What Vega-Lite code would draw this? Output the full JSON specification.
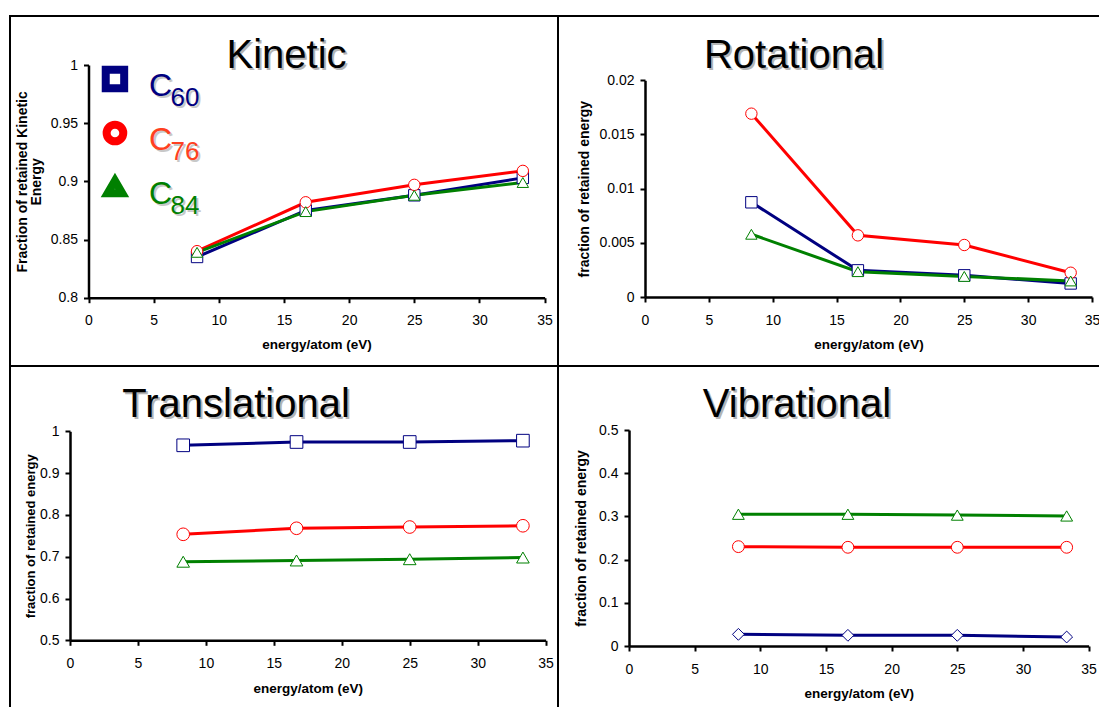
{
  "$schema": "https://vega.github.io/schema/vega-lite/v6.json",
  "padding": {"left": 9, "top": 15, "right": 0, "bottom": 0},
  "bounds": "flush",
  "spacing": 0,
  "columns": 2,
  "datasets": {
    "energy": [
      {"component": "Kinetic", "series": "C60", "energy": 8.33, "fraction": 0.835},
      {"component": "Kinetic", "series": "C60", "energy": 16.67, "fraction": 0.875},
      {"component": "Kinetic", "series": "C60", "energy": 25, "fraction": 0.888},
      {"component": "Kinetic", "series": "C60", "energy": 33.33, "fraction": 0.903},
      {"component": "Kinetic", "series": "C76", "energy": 8.33, "fraction": 0.84},
      {"component": "Kinetic", "series": "C76", "energy": 16.67, "fraction": 0.882},
      {"component": "Kinetic", "series": "C76", "energy": 25, "fraction": 0.897},
      {"component": "Kinetic", "series": "C76", "energy": 33.33, "fraction": 0.909},
      {"component": "Kinetic", "series": "C84", "energy": 8.33, "fraction": 0.839},
      {"component": "Kinetic", "series": "C84", "energy": 16.67, "fraction": 0.874},
      {"component": "Kinetic", "series": "C84", "energy": 25, "fraction": 0.888},
      {"component": "Kinetic", "series": "C84", "energy": 33.33, "fraction": 0.899},
      {"component": "Rotational", "series": "C60", "energy": 8.33, "fraction": 0.00874},
      {"component": "Rotational", "series": "C60", "energy": 16.67, "fraction": 0.00246},
      {"component": "Rotational", "series": "C60", "energy": 25, "fraction": 0.002},
      {"component": "Rotational", "series": "C60", "energy": 33.33, "fraction": 0.00125},
      {"component": "Rotational", "series": "C76", "energy": 8.33, "fraction": 0.01692},
      {"component": "Rotational", "series": "C76", "energy": 16.67, "fraction": 0.00569},
      {"component": "Rotational", "series": "C76", "energy": 25, "fraction": 0.0048},
      {"component": "Rotational", "series": "C76", "energy": 33.33, "fraction": 0.00224},
      {"component": "Rotational", "series": "C84", "energy": 8.33, "fraction": 0.00579},
      {"component": "Rotational", "series": "C84", "energy": 16.67, "fraction": 0.00234},
      {"component": "Rotational", "series": "C84", "energy": 25, "fraction": 0.0019},
      {"component": "Rotational", "series": "C84", "energy": 33.33, "fraction": 0.00148},
      {"component": "Translational", "series": "C60", "energy": 8.33, "fraction": 0.9665},
      {"component": "Translational", "series": "C60", "energy": 16.67, "fraction": 0.9744},
      {"component": "Translational", "series": "C60", "energy": 25, "fraction": 0.9744},
      {"component": "Translational", "series": "C60", "energy": 33.33, "fraction": 0.9776},
      {"component": "Translational", "series": "C76", "energy": 8.33, "fraction": 0.7536},
      {"component": "Translational", "series": "C76", "energy": 16.67, "fraction": 0.768},
      {"component": "Translational", "series": "C76", "energy": 25, "fraction": 0.771},
      {"component": "Translational", "series": "C76", "energy": 33.33, "fraction": 0.774},
      {"component": "Translational", "series": "C84", "energy": 8.33, "fraction": 0.688},
      {"component": "Translational", "series": "C84", "energy": 16.67, "fraction": 0.691},
      {"component": "Translational", "series": "C84", "energy": 25, "fraction": 0.694},
      {"component": "Translational", "series": "C84", "energy": 33.33, "fraction": 0.698},
      {"component": "Vibrational", "series": "C60", "energy": 8.33, "fraction": 0.027},
      {"component": "Vibrational", "series": "C60", "energy": 16.67, "fraction": 0.0247},
      {"component": "Vibrational", "series": "C60", "energy": 25, "fraction": 0.0247},
      {"component": "Vibrational", "series": "C60", "energy": 33.33, "fraction": 0.0208},
      {"component": "Vibrational", "series": "C76", "energy": 8.33, "fraction": 0.23},
      {"component": "Vibrational", "series": "C76", "energy": 16.67, "fraction": 0.2285},
      {"component": "Vibrational", "series": "C76", "energy": 25, "fraction": 0.2285},
      {"component": "Vibrational", "series": "C76", "energy": 33.33, "fraction": 0.2285},
      {"component": "Vibrational", "series": "C84", "energy": 8.33, "fraction": 0.305},
      {"component": "Vibrational", "series": "C84", "energy": 16.67, "fraction": 0.305},
      {"component": "Vibrational", "series": "C84", "energy": 25, "fraction": 0.303},
      {"component": "Vibrational", "series": "C84", "energy": 33.33, "fraction": 0.301}
    ],
    "key": [
      {"series": "C60", "letter": "C", "sub": "60"},
      {"series": "C76", "letter": "C", "sub": "76"},
      {"series": "C84", "letter": "C", "sub": "84"}
    ]
  },
  "concat": [
    {
      "width": 548,
      "height": 350,
      "layer": [
        {
          "layer": [
            {
              "data": {"name": "energy"},
              "transform": [{"filter": "datum.component === 'Kinetic'"}],
              "mark": {"type": "line", "strokeWidth": 3},
              "encoding": {
                "x": {"field": "energy", "type": "quantitative",
                  "scale": {"domain": [0, 35], "range": [78.5, 534.6], "nice": false, "zero": false},
                  "axis": {"values": [0, 5, 10, 15, 20, 25, 30, 35], "format": "d", "offset": -68.3, "title": "energy/atom  (eV)", "titleBaseline": "alphabetic", "titleY": 51}},
                "y": {"field": "fraction", "type": "quantitative",
                  "scale": {"domain": [0.8, 1], "range": [281.7, 49], "nice": false, "zero": false},
                  "axis": {"values": [0.8, 0.85, 0.9, 0.95, 1], "format": "~g", "offset": -78.5, "title": ["Fraction of retained Kinetic", "Energy"], "titleBaseline": "alphabetic", "titleX": -62.5, "titleLineHeight": 14, "titleFontSize": 14}},
                "stroke": {"field": "series", "type": "nominal",
                  "scale": {"domain": ["C60", "C76", "C84"], "range": ["#000080", "#ff0000", "#008000"]}, "legend": null}
              }
            },
            {
              "data": {"name": "energy"},
              "transform": [{"filter": "datum.component === 'Kinetic'"}],
              "mark": {"type": "point", "filled": false, "fill": "white", "fillOpacity": 1, "opacity": 1, "strokeWidth": 1, "size": 130},
              "encoding": {
                "x": {"field": "energy", "type": "quantitative"},
                "y": {"field": "fraction", "type": "quantitative"},
                "color": {"field": "series", "type": "nominal",
                  "scale": {"domain": ["C60", "C76", "C84"], "range": ["#000080", "#ff0000", "#008000"]}, "legend": null},
                "shape": {"field": "series", "type": "nominal",
                  "scale": {"domain": ["C60", "C76", "C84"], "range": ["square", "circle", "triangle-up"]}, "legend": null}
              }
            },
            {
              "data": {"values": [{"label": "Kinetic"}]},
              "mark": {"type": "text", "font": "Liberation Sans", "fontSize": 40, "align": "center", "baseline": "alphabetic", "color": "#b4b4b4", "dx": 2, "dy": 2},
              "encoding": {"x": {"datum": 15.2}, "y": {"datum": 0.9974}, "text": {"field": "label"}}
            },
            {
              "data": {"values": [{"label": "Kinetic"}]},
              "mark": {"type": "text", "font": "Liberation Sans", "fontSize": 40, "align": "center", "baseline": "alphabetic", "color": "black"},
              "encoding": {"x": {"datum": 15.2}, "y": {"datum": 0.9974}, "text": {"field": "label"}}
            }
          ]
        },
        {
          "data": {"name": "key"},
          "encoding": {
            "y": {"field": "series", "type": "nominal", "scale": {"type": "point", "domain": ["C60", "C76", "C84"], "range": [63, 171], "padding": 0}, "axis": null}
          },
          "layer": [
            {
              "mark": {"type": "point", "filled": false, "fill": "white", "fillOpacity": 1, "opacity": 1, "strokeWidth": 8, "strokeJoin": "miter"},
              "encoding": {
                "x": {"datum": 2.03},
                "color": {"field": "series", "type": "nominal",
                  "scale": {"domain": ["C60", "C76", "C84"], "range": ["#000080", "#ff0000", "#008000"]}, "legend": null},
                "shape": {"field": "series", "type": "nominal",
                  "scale": {"domain": ["C60", "C76", "C84"], "range": ["square", "circle", "triangle-up"]}, "legend": null},
                "size": {"field": "series", "type": "nominal",
                  "scale": {"domain": ["C60", "C76", "C84"], "range": [340, 214, 380]}, "legend": null}
              }
            },
            {
              "mark": {"type": "text", "font": "Liberation Sans", "fontSize": 32, "align": "left", "baseline": "alphabetic", "dx": 2, "dy": 19, "color": "#c8c8c8"},
              "encoding": {"x": {"datum": 4.64}, "text": {"field": "letter"}}
            },
            {
              "mark": {"type": "text", "font": "Liberation Sans", "fontSize": 26, "align": "left", "baseline": "alphabetic", "dx": 2, "dy": 29, "color": "#c8c8c8"},
              "encoding": {"x": {"datum": 6.3}, "text": {"field": "sub"}}
            },
            {
              "mark": {"type": "text", "font": "Liberation Sans", "fontSize": 32, "align": "left", "baseline": "alphabetic", "dy": 17},
              "encoding": {
                "x": {"datum": 4.64}, "text": {"field": "letter"},
                "fill": {"field": "series", "type": "nominal",
                  "scale": {"domain": ["C60", "C76", "C84"], "range": ["#000080", "#ff4020", "#008000"]}, "legend": null}
              }
            },
            {
              "mark": {"type": "text", "font": "Liberation Sans", "fontSize": 26, "align": "left", "baseline": "alphabetic", "dy": 27},
              "encoding": {
                "x": {"datum": 6.3}, "text": {"field": "sub"},
                "fill": {"field": "series", "type": "nominal",
                  "scale": {"domain": ["C60", "C76", "C84"], "range": ["#000080", "#ff4020", "#008000"]}, "legend": null}
              }
            }
          ]
        }
      ],
      "resolve": {"scale": {"y": "independent"}}
    },
    {
      "width": 542,
      "height": 350,
      "layer": [
        {
          "data": {"name": "energy"},
          "transform": [{"filter": "datum.component === 'Rotational'"}],
          "mark": {"type": "line", "strokeWidth": 3},
          "encoding": {
            "x": {"field": "energy", "type": "quantitative",
              "scale": {"domain": [0, 35], "range": [87, 534], "nice": false, "zero": false},
              "axis": {"values": [0, 5, 10, 15, 20, 25, 30, 35], "format": "d", "offset": -69, "title": "energy/atom (eV)", "titleBaseline": "alphabetic", "titleY": 51}},
            "y": {"field": "fraction", "type": "quantitative",
              "scale": {"domain": [0, 0.02], "range": [281, 64.3], "nice": false, "zero": false},
              "axis": {"values": [0, 0.005, 0.01, 0.015, 0.02], "format": "~g", "offset": -87, "title": "fraction of retained energy", "titleBaseline": "alphabetic", "titleX": -57, "titleFontSize": 14}},
            "stroke": {"field": "series", "type": "nominal",
              "scale": {"domain": ["C60", "C76", "C84"], "range": ["#000080", "#ff0000", "#008000"]}, "legend": null}
          }
        },
        {
          "data": {"name": "energy"},
          "transform": [{"filter": "datum.component === 'Rotational'"}],
          "mark": {"type": "point", "filled": false, "fill": "white", "fillOpacity": 1, "opacity": 1, "strokeWidth": 1, "size": 130},
          "encoding": {
            "x": {"field": "energy", "type": "quantitative"},
            "y": {"field": "fraction", "type": "quantitative"},
            "color": {"field": "series", "type": "nominal",
              "scale": {"domain": ["C60", "C76", "C84"], "range": ["#000080", "#ff0000", "#008000"]}, "legend": null},
            "shape": {"field": "series", "type": "nominal",
              "scale": {"domain": ["C60", "C76", "C84"], "range": ["square", "circle", "triangle-up"]}, "legend": null}
          }
        },
        {
          "data": {"values": [{"label": "Rotational"}]},
          "mark": {"type": "text", "font": "Liberation Sans", "fontSize": 40, "align": "center", "baseline": "alphabetic", "color": "#b4b4b4", "dx": 2, "dy": 2},
          "encoding": {"x": {"datum": 11.67}, "y": {"datum": 0.02114}, "text": {"field": "label"}}
        },
        {
          "data": {"values": [{"label": "Rotational"}]},
          "mark": {"type": "text", "font": "Liberation Sans", "fontSize": 40, "align": "center", "baseline": "alphabetic", "color": "black"},
          "encoding": {"x": {"datum": 11.67}, "y": {"datum": 0.02114}, "text": {"field": "label"}}
        }
      ]
    },
    {
      "width": 548,
      "height": 342,
      "layer": [
        {
          "data": {"name": "energy"},
          "transform": [{"filter": "datum.component === 'Translational'"}],
          "mark": {"type": "line", "strokeWidth": 3},
          "encoding": {
            "x": {"field": "energy", "type": "quantitative",
              "scale": {"domain": [0, 35], "range": [60, 535.6], "nice": false, "zero": false},
              "axis": {"values": [0, 5, 10, 15, 20, 25, 30, 35], "format": "d", "offset": -67.7, "title": "energy/atom  (eV)", "titleBaseline": "alphabetic", "titleY": 52}},
            "y": {"field": "fraction", "type": "quantitative",
              "scale": {"domain": [0.5, 1], "range": [274.3, 65.3], "nice": false, "zero": false},
              "axis": {"values": [0.5, 0.6, 0.7, 0.8, 0.9, 1], "format": "~g", "offset": -60, "title": "fraction of retained energy", "titleBaseline": "alphabetic", "titleX": -35.5, "titleFontSize": 13}},
            "stroke": {"field": "series", "type": "nominal",
              "scale": {"domain": ["C60", "C76", "C84"], "range": ["#000080", "#ff0000", "#008000"]}, "legend": null}
          }
        },
        {
          "data": {"name": "energy"},
          "transform": [{"filter": "datum.component === 'Translational'"}],
          "mark": {"type": "point", "filled": false, "fill": "white", "fillOpacity": 1, "opacity": 1, "strokeWidth": 1, "size": 160},
          "encoding": {
            "x": {"field": "energy", "type": "quantitative"},
            "y": {"field": "fraction", "type": "quantitative"},
            "color": {"field": "series", "type": "nominal",
              "scale": {"domain": ["C60", "C76", "C84"], "range": ["#000080", "#ff0000", "#008000"]}, "legend": null},
            "shape": {"field": "series", "type": "nominal",
              "scale": {"domain": ["C60", "C76", "C84"], "range": ["square", "circle", "triangle-up"]}, "legend": null}
          }
        },
        {
          "data": {"values": [{"label": "Translational"}]},
          "mark": {"type": "text", "font": "Liberation Sans", "fontSize": 40, "align": "center", "baseline": "alphabetic", "color": "#b4b4b4", "dx": 2, "dy": 2},
          "encoding": {"x": {"datum": 12.22}, "y": {"datum": 1.0342}, "text": {"field": "label"}}
        },
        {
          "data": {"values": [{"label": "Translational"}]},
          "mark": {"type": "text", "font": "Liberation Sans", "fontSize": 40, "align": "center", "baseline": "alphabetic", "color": "black"},
          "encoding": {"x": {"datum": 12.22}, "y": {"datum": 1.0342}, "text": {"field": "label"}}
        }
      ]
    },
    {
      "width": 542,
      "height": 342,
      "layer": [
        {
          "data": {"name": "energy"},
          "transform": [{"filter": "datum.component === 'Vibrational'"}],
          "mark": {"type": "line", "strokeWidth": 3},
          "encoding": {
            "x": {"field": "energy", "type": "quantitative",
              "scale": {"domain": [0, 35], "range": [71, 530.6], "nice": false, "zero": false},
              "axis": {"values": [0, 5, 10, 15, 20, 25, 30, 35], "format": "d", "offset": -62, "title": "energy/atom  (eV)", "titleBaseline": "alphabetic", "titleY": 51}},
            "y": {"field": "fraction", "type": "quantitative",
              "scale": {"domain": [0, 0.5], "range": [280, 64], "nice": false, "zero": false},
              "axis": {"values": [0, 0.1, 0.2, 0.3, 0.4, 0.5], "format": "~g", "offset": -71, "title": "fraction of retained energy", "titleBaseline": "alphabetic", "titleX": -43.5, "titleFontSize": 14}},
            "stroke": {"field": "series", "type": "nominal",
              "scale": {"domain": ["C60", "C76", "C84"], "range": ["#000080", "#ff0000", "#008000"]}, "legend": null}
          }
        },
        {
          "data": {"name": "energy"},
          "transform": [{"filter": "datum.component === 'Vibrational'"}],
          "mark": {"type": "point", "filled": false, "fill": "white", "fillOpacity": 1, "opacity": 1, "strokeWidth": 1, "size": 140},
          "encoding": {
            "x": {"field": "energy", "type": "quantitative"},
            "y": {"field": "fraction", "type": "quantitative"},
            "color": {"field": "series", "type": "nominal",
              "scale": {"domain": ["C60", "C76", "C84"], "range": ["#000080", "#ff0000", "#008000"]}, "legend": null},
            "shape": {"field": "series", "type": "nominal",
              "scale": {"domain": ["C60", "C76", "C84"], "range": ["diamond", "circle", "triangle-up"]}, "legend": null}
          }
        },
        {
          "data": {"values": [{"label": "Vibrational"}]},
          "mark": {"type": "text", "font": "Liberation Sans", "fontSize": 40, "align": "center", "baseline": "alphabetic", "color": "#b4b4b4", "dx": 2, "dy": 2},
          "encoding": {"x": {"datum": 12.79}, "y": {"datum": 0.5301}, "text": {"field": "label"}}
        },
        {
          "data": {"values": [{"label": "Vibrational"}]},
          "mark": {"type": "text", "font": "Liberation Sans", "fontSize": 40, "align": "center", "baseline": "alphabetic", "color": "black"},
          "encoding": {"x": {"datum": 12.79}, "y": {"datum": 0.5301}, "text": {"field": "label"}}
        }
      ]
    }
  ],
  "resolve": {
    "scale": {"x": "independent", "y": "independent", "color": "independent", "shape": "independent", "stroke": "independent", "fill": "independent", "size": "independent"},
    "axis": {"x": "independent", "y": "independent"}
  },
  "config": {
    "font": "Liberation Sans",
    "background": "white",
    "view": {"stroke": "black", "strokeWidth": 2},
    "axis": {
      "domainColor": "black", "domainWidth": 2.5,
      "tickColor": "black", "tickWidth": 2, "tickSize": 5,
      "labelFont": "Liberation Sans", "labelFontSize": 14, "labelColor": "black",
      "labelFlush": false, "labelOverlap": false,
      "titleFont": "Liberation Sans", "titleFontSize": 13.5, "titleFontWeight": "bold", "titleColor": "black",
      "grid": false
    },
    "axisX": {"labelPadding": 11},
    "axisY": {"labelPadding": 6}
  }
}
